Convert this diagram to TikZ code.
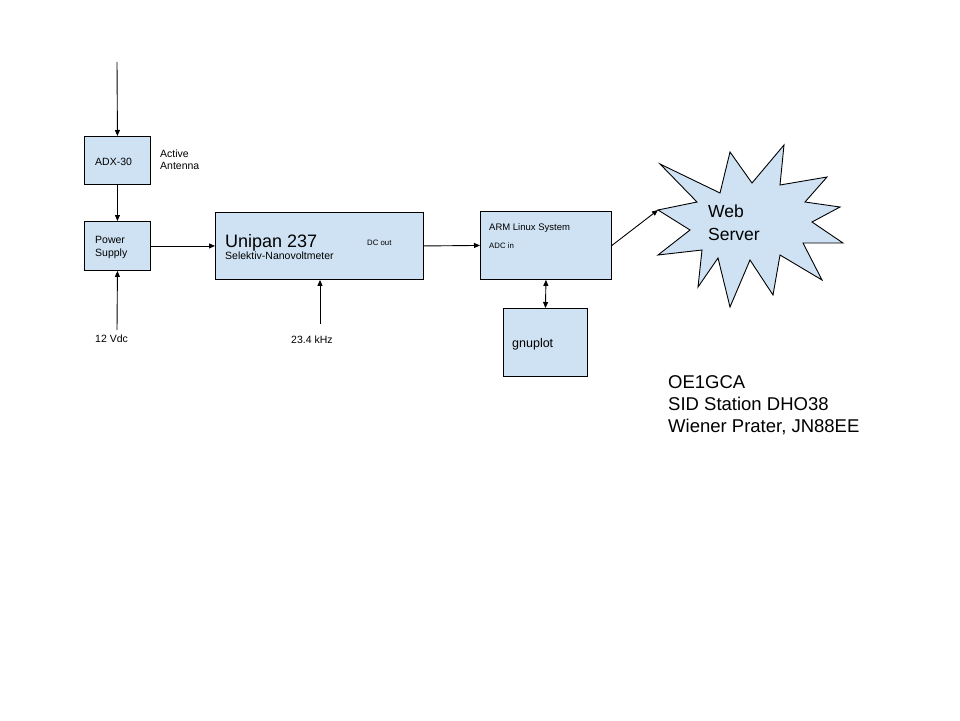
\documentclass[tikz,border=0pt]{standalone}
\usepackage{fontspec}
\setmainfont{Liberation Sans}
\usetikzlibrary{arrows.meta}
\definecolor{boxblue}{HTML}{CFE2F3}
\begin{document}
\begin{tikzpicture}[x=1pt,y=-1pt,
  box/.style={draw=black, fill=boxblue, line width=0.9pt, inner sep=0pt, anchor=north west},
  lbl/.style={anchor=base west, inner sep=0pt, font=\fontsize{10.5}{12}\selectfont},
  small/.style={anchor=base west, inner sep=0pt, font=\fontsize{7.8}{9}\selectfont},
  big/.style={anchor=base west, inner sep=0pt, font=\fontsize{18}{21}\selectfont},
  conn/.style={line width=0.9pt, -{Triangle[length=6pt,width=5pt]}},
  dconn/.style={line width=0.9pt, {Triangle[length=6pt,width=5pt]}-{Triangle[length=6pt,width=5pt]}},
  starsty/.style={draw=black, fill=boxblue, line width=0.9pt, line join=miter}]
\useasboundingbox[fill=white] (0,0) rectangle (960,720);

% boxes
\node[box, minimum width=66pt, minimum height=48pt] (adx) at (84,136) {};
\node[box, minimum width=66pt, minimum height=49pt] (ps) at (84,221) {};
\node[box, minimum width=208pt, minimum height=67pt] (uni) at (215,212) {};
\node[box, minimum width=131pt, minimum height=68pt] (arm) at (480,211) {};
\node[box, minimum width=84pt, minimum height=68pt] (gnu) at (503,308) {};

% star
\draw[starsty] (660,164) -- (720,193) -- (730,152) -- (752,183) -- (784,145)
  -- (780,185) -- (827,177) -- (805,202) -- (840,207) -- (812,222)
  -- (843,243) -- (803,243) -- (822,280) -- (780,255) -- (773,295)
  -- (750,260) -- (730,307) -- (718,258) -- (698,287) -- (702,250)
  -- (658,255) -- (690,230) -- (658,210) -- (697,202) -- cycle;
\coordinate (webtip) at (658,210);

% free ends
\coordinate (antin) at (117,62);
\coordinate (v12) at (117,330);
\coordinate (khz) at (320,324);

% connectors
\draw[conn] (antin) -- (adx.north);
\draw[conn] (adx.south) -- (ps.north);
\draw[conn] (v12) -- (ps.south);
\draw[conn] (ps.east) -- (uni.west);
\draw[conn] (khz) -- (khz |- uni.south);
\draw[conn] (uni.east) -- (arm.west);
\draw[dconn] (arm.south) -- (gnu.north);
\draw[conn] (arm.east) -- (webtip);

% texts
\node[lbl] (tadx) at (95,165) {ADX-30};
\node[lbl] (tact1) at (160,157) {Active};
\node[lbl] (tact2) at (160,169) {Antenna};
\node[lbl] (tps1) at (95,243) {Power};
\node[lbl] (tps2) at (95,256) {Supply};
\node[lbl] (t12) at (95,342) {12 Vdc};
\node[big] (tuni) at (225,247) {Unipan 237};
\node[lbl] (tsel) at (225,259) {Selektiv-Nanovoltmeter};
\node[small] (tdc) at (367,245) {DC out};
\node[lbl] (tkhz) at (291,343) {23.4 kHz};
\node[lbl, font=\fontsize{9.5}{11}\selectfont] (tarm) at (489,230) {ARM Linux System};
\node[small] (tadc) at (489,248) {ADC in};
\node[lbl, font=\fontsize{12.5}{14}\selectfont] (tgnu) at (512,347) {gnuplot};
\node[big, font=\fontsize{17.5}{21}\selectfont] (tweb1) at (708,217) {Web};
\node[big, font=\fontsize{17.5}{21}\selectfont] (tweb2) at (708,240) {Server};
\node[big, font=\fontsize{18.5}{22}\selectfont] (tcs1) at (668,388) {OE1GCA};
\node[big, font=\fontsize{18.5}{22}\selectfont] (tcs2) at (668,410) {SID Station DHO38};
\node[big, font=\fontsize{18.5}{22}\selectfont] (tcs3) at (668,432) {Wiener Prater, JN88EE};
\end{tikzpicture}
\end{document}
